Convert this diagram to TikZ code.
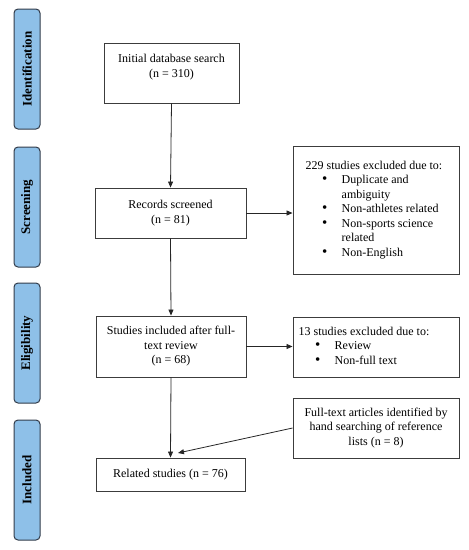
\documentclass[tikz,border=0pt]{standalone}
\usepackage{fontspec}
\setmainfont{Liberation Serif}
\usetikzlibrary{arrows.meta}
\definecolor{stageblue}{RGB}{142,192,232}
\definecolor{stageedge}{RGB}{50,60,75}
\definecolor{boxedge}{RGB}{60,60,60}
\newcommand{\bl}[1]{\makebox[36pt][l]{\hspace{16.5pt}\scalebox{1.25}{\textbullet}}#1}
\newcommand{\cont}[1]{\hspace*{36pt}#1}
\begin{document}
\begin{tikzpicture}[x=1pt,y=-1pt,
  stagebox/.style={draw=stageedge,line width=1pt,fill=stageblue,rounded corners=4pt,
    minimum width=26pt,minimum height=120pt,inner sep=0pt},
  stagetext/.style={rotate=90,font=\fontsize{13}{15}\selectfont\bfseries},
  flowbox/.style={draw=boxedge,line width=0.9pt,inner sep=0pt,align=center,
    font=\fontsize{12}{14.5}\selectfont},
  listbox/.style={draw=boxedge,line width=0.9pt,inner sep=0pt,align=left,
    font=\fontsize{12}{14.5}\selectfont},
  arr/.style={draw=black!85,line width=0.8pt,-{Triangle[length=6pt,width=5pt]}}]
\useasboundingbox (0,0) rectangle (469,550);
% stage labels
\node[stagebox] (s1) at (27,69) {};
\node[stagetext] (t1) at (s1.center) {Identification};
\node[stagebox] (s2) at (27,207) {};
\node[stagetext] (t2) at (s2.center) {Screening};
\node[stagebox] (s3) at (27,343) {};
\node[stagetext] (t3) at (s3.center) {Eligibility};
\node[stagebox] (s4) at (27,480) {};
\node[stagetext] (t4) at (s4.center) {Included};
% main boxes
\node[flowbox,minimum width=135pt,minimum height=60pt] (init) at (171.5,73)
  {Initial database search\\(n = 310)\\~};
\node[flowbox,minimum width=151pt,minimum height=50pt] (rec) at (170.5,213)
  {Records screened\\(n = 81)};
\node[flowbox,minimum width=150pt,minimum height=61pt] (stud) at (171,346.5)
  {Studies included after full-\\text review\\(n = 68)};
\node[flowbox,minimum width=149pt,minimum height=33pt] (rel) at (170.5,474.5)
  {Related studies (n = 76)};
% side boxes
\node[listbox,minimum width=166pt,minimum height=128pt] (ex1) at (376,210)
  {\hspace*{4pt}\begin{tabular}{@{}l@{}}
   229 studies excluded due to:\\
   \bl{Duplicate and}\\
   \cont{ambiguity}\\
   \bl{Non-athletes related}\\
   \bl{Non-sports science}\\
   \cont{related}\\
   \bl{Non-English}
   \end{tabular}\hspace*{8pt}};
\node[listbox,minimum width=166pt,minimum height=60pt] (ex2) at (376,347)
  {\begin{tabular}{@{}l@{}}
   13 studies excluded due to:\\
   \bl{Review}\\
   \bl{Non-full text}
   \end{tabular}\hspace*{24pt}};
\node[flowbox,minimum width=166pt,minimum height=60pt] (hand) at (376,428)
  {Full-text articles identified by\\hand searching of reference\\lists (n = 8)};
\coordinate (tip) at (178,453);
% connectors
\draw[arr] (init.south) -- (rec.north);
\draw[arr] (rec.south) -- (stud.north);
\draw[arr] (stud.south) -- (rel.north);
\draw[arr] (rec.east) -- (ex1.west |- rec.east);
\draw[arr] (stud.east) -- (ex2.west |- stud.east);
\draw[arr] (hand.west) -- (tip);
\end{tikzpicture}
\end{document}
